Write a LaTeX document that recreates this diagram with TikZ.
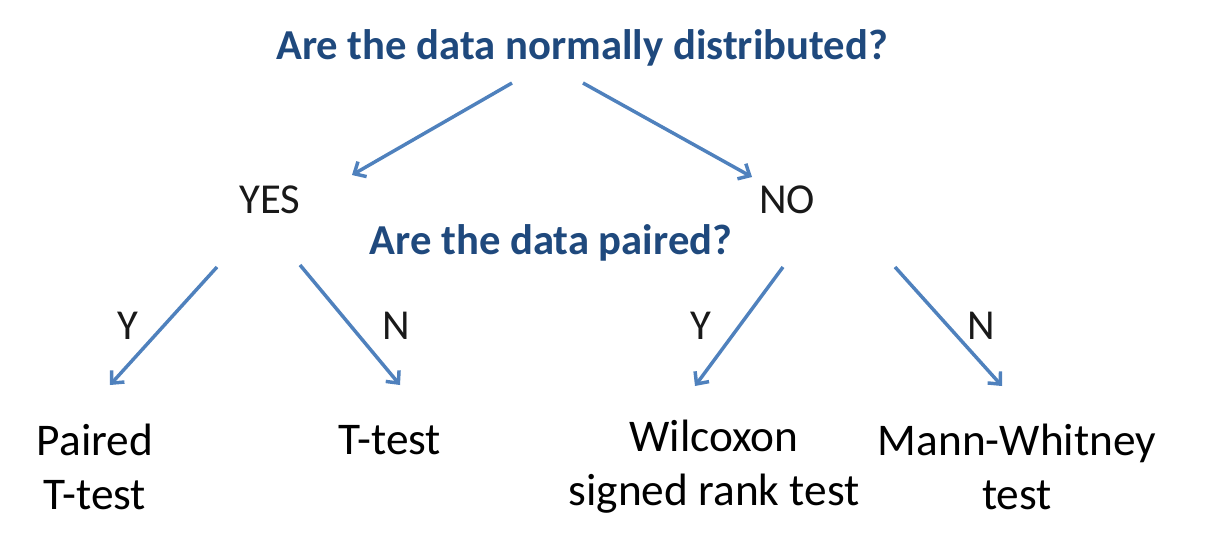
\documentclass[tikz,border=0pt]{standalone}
\usepackage{fontspec}
\setmainfont{Carlito}
\usetikzlibrary{arrows.meta}
\definecolor{qblue}{RGB}{31,73,125}
\definecolor{ablue}{RGB}{79,129,189}
\tikzset{
  question/.style={text=qblue,font=\bfseries\fontsize{32}{38}\selectfont,inner sep=0pt},
  answer/.style={text=black!90,font=\fontsize{32}{38}\selectfont,inner sep=0pt},
  result/.style={text=black,font=\fontsize{34}{40.5}\selectfont,align=center,inner sep=0pt},
  link/.style={draw=ablue,line width=2.6pt,-{Straight Barb[length=7pt,width=13pt,line width=2.6pt]}}
}
\begin{document}
\begin{tikzpicture}[x=0.75pt,y=-0.75pt]
\useasboundingbox (0,0) rectangle (1208,537);
\node[question] (q1) at (582,48) {Are the data normally distributed?};
\node[answer] (yes) at (270,200) {YES};
\node[answer] (no) at (787,200) {NO};
\node[question] (q2) at (551,243) {Are the data paired?};
\node[answer] (y1) at (128,326) {Y};
\node[answer] (n1) at (396,326) {N};
\node[answer] (y2) at (701,326) {Y};
\node[answer] (n2) at (981,326) {N};
\node[result] (r1) at (95,467) {Paired\\T-test};
\node[result] (r2) at (390,440) {T-test};
\node[result] (r3) at (714,467) {Wilcoxon\\signed rank test};
\node[result] (r4) at (1017,467) {Mann-Whitney\\test};
\coordinate (a1s) at (512,83); \coordinate (a1e) at (352,175);
\coordinate (a2s) at (583,83); \coordinate (a2e) at (752,177);
\coordinate (a3s) at (217,267); \coordinate (a3e) at (110,385);
\coordinate (a4s) at (300,265); \coordinate (a4e) at (400,385);
\coordinate (a5s) at (783,267); \coordinate (a5e) at (695,386);
\coordinate (a6s) at (895,267); \coordinate (a6e) at (1002,386);
\draw[link] (a1s) -- (a1e);
\draw[link] (a2s) -- (a2e);
\draw[link] (a3s) -- (a3e);
\draw[link] (a4s) -- (a4e);
\draw[link] (a5s) -- (a5e);
\draw[link] (a6s) -- (a6e);
\end{tikzpicture}
\end{document}
